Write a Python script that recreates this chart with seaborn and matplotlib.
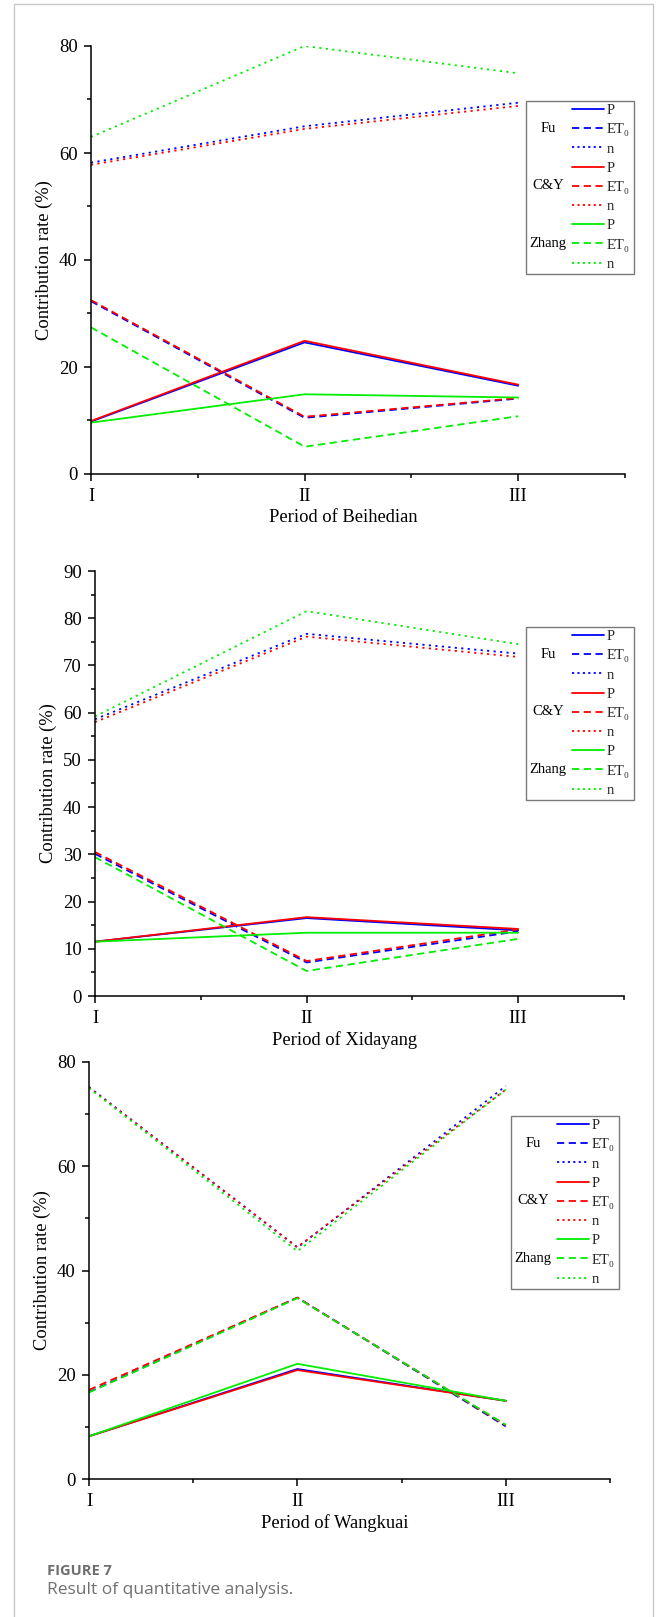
import numpy as np
import pandas as pd
import matplotlib
matplotlib.use("Agg")
import matplotlib.pyplot as plt
import seaborn as sns
from matplotlib.lines import Line2D
from matplotlib.patches import Rectangle

# ---------------- data ----------------
periods = ["I", "II", "III"]
methods = ["Fu", "C&Y", "Zhang"]
factors = ["P", "ET₀", "n"]
sites = ["Beihedian", "Xidayang", "Wangkuai"]

# Beihedian
bhd_fu_p = [9.8, 24.6, 16.5]
bhd_cy_p = [9.9, 24.9, 16.7]
bhd_zh_p = [9.6, 14.9, 14.3]
bhd_fu_et = [32.3, 10.5, 14.1]
bhd_cy_et = [32.5, 10.7, 14.2]
bhd_zh_et = [27.4, 5.1, 10.8]
bhd_fu_n = [58.2, 65.0, 69.4]
bhd_cy_n = [57.8, 64.5, 68.8]
bhd_zh_n = [63.0, 80.0, 74.9]

# Xidayang
xdy_fu_p = [11.5, 16.5, 13.9]
xdy_cy_p = [11.5, 16.7, 14.2]
xdy_zh_p = [11.5, 13.4, 13.4]
xdy_fu_et = [30.1, 7.1, 13.7]
xdy_cy_et = [30.5, 7.4, 14.1]
xdy_zh_et = [29.4, 5.3, 12.1]
xdy_fu_n = [58.6, 76.7, 72.5]
xdy_cy_n = [58.0, 76.1, 71.8]
xdy_zh_n = [59.2, 81.5, 74.5]

# Wangkuai
wk_fu_p = [8.2, 21.1, 15.0]
wk_cy_p = [8.2, 20.9, 15.0]
wk_zh_p = [8.2, 22.1, 15.0]
wk_fu_et = [16.7, 34.8, 10.1]
wk_cy_et = [17.1, 34.8, 10.3]
wk_zh_et = [16.6, 34.7, 10.4]
wk_fu_n = [75.2, 44.4, 75.4]
wk_cy_n = [75.1, 44.5, 74.7]
wk_zh_n = [75.0, 43.7, 74.7]

ylims = [80, 90, 80]

site_series = [
    {"Fu": [bhd_fu_p, bhd_fu_et, bhd_fu_n], "C&Y": [bhd_cy_p, bhd_cy_et, bhd_cy_n], "Zhang": [bhd_zh_p, bhd_zh_et, bhd_zh_n]},
    {"Fu": [xdy_fu_p, xdy_fu_et, xdy_fu_n], "C&Y": [xdy_cy_p, xdy_cy_et, xdy_cy_n], "Zhang": [xdy_zh_p, xdy_zh_et, xdy_zh_n]},
    {"Fu": [wk_fu_p, wk_fu_et, wk_fu_n], "C&Y": [wk_cy_p, wk_cy_et, wk_cy_n], "Zhang": [wk_zh_p, wk_zh_et, wk_zh_n]},
]

# ---------------- style ----------------
sns.set_theme(style="ticks")
plt.rcParams["font.family"] = ["Liberation Serif", "DejaVu Serif"]
plt.rcParams["axes.linewidth"] = 1.1
plt.rcParams["axes.edgecolor"] = "black"

colors = {"Fu": "#0000ff", "C&Y": "#ff0000", "Zhang": "#00ee00"}
dash_map = {"P": "", "ET₀": (4, 2.5), "n": (1.2, 2.4)}
legend_dash = {"P": "", "ET₀": (4, 2.5), "n": (1.2, 1.8)}
LW = 1.3
LEG_FS = 10.5

W, H = 656, 1617
fig = plt.figure(figsize=(W / 100, H / 100), dpi=100)

# axes pixel boxes: left, right, top, bottom
panel_px = [(91, 625, 46, 474), (95, 624, 571, 996), (89, 610, 1062, 1479)]
legend_px = [(572, 104), (572, 630), (557, 1119)]

axes = []
legends = []
for i, site in enumerate(sites):
    l, r, t, b = panel_px[i]
    ax = fig.add_axes([l / W, 1 - b / H, (r - l) / W, (b - t) / H])
    rows = []
    for m in methods:
        for f, vals in zip(factors, site_series[i][m]):
            for k, v in enumerate(vals):
                rows.append({"x": k, "value": v, "method": m, "factor": f})
    df = pd.DataFrame(rows)
    sns.lineplot(data=df, x="x", y="value", hue="method", style="factor",
                 hue_order=methods, style_order=factors, palette=colors,
                 dashes=dash_map, linewidth=LW, errorbar=None, legend=False,
                 sort=False, ax=ax)
    ymax = ylims[i]
    ax.set_xlim(0, 2.5)
    ax.set_ylim(0, ymax)
    ax.set_xticks(range(len(periods)), labels=periods)
    ax.set_xticks([0.5, 1.5, 2.5], minor=True)
    if ymax == 90:
        ax.set_yticks(np.arange(0, 91, 10))
        ax.set_yticks(np.arange(5, 90, 10), minor=True)
    else:
        ax.set_yticks(np.arange(0, 81, 20))
        ax.set_yticks(np.arange(10, 80, 20), minor=True)
    sns.despine(ax=ax)
    ax.tick_params(which="major", direction="out", length=5, width=1.1,
                   labelsize=13.5, color="black", labelcolor="black")
    ax.tick_params(which="minor", direction="out", length=2.8, width=1.1, color="black")
    ax.tick_params(axis="y", which="major", pad=4.5)
    ax.tick_params(axis="x", which="major", pad=5)
    ax.set_xlabel(f"Period of {site}", fontsize=13.3, color="black")
    ax.set_ylabel("Contribution rate (%)", fontsize=13.3, color="black")
    ax.yaxis.set_label_coords(-38 / (r - l), 0.5)
    ax.xaxis.set_label_coords(0.472, -35 / (b - t))

    handles, labels = [], []
    for m in methods:
        for f in factors:
            d = legend_dash[f]
            ls = "-" if d == "" else (0, d)
            handles.append(Line2D([], [], color=colors[m], lw=LW, linestyle=ls))
            labels.append(f)
    hx, hy = legend_px[i]
    leg = ax.legend(handles, labels, loc="upper left",
                    bbox_to_anchor=((hx - l) / (r - l), (b - hy) / (b - t)),
                    frameon=False, borderpad=0, borderaxespad=0,
                    handlelength=2.2, handletextpad=0.2, labelspacing=0.41,
                    fontsize=LEG_FS)
    axes.append(ax)
    legends.append(leg)

fig.canvas.draw()
renderer = fig.canvas.get_renderer()
inv = fig.transFigure.inverted()
for ax, leg in zip(axes, legends):
    hls = leg.legend_handles
    bb = leg.get_window_extent(renderer)
    hx0 = hls[0].get_window_extent(renderer).x0
    for gi, m in enumerate(methods):
        hb = hls[gi * 3 + 1].get_window_extent(renderer)
        cy = (hb.y0 + hb.y1) / 2
        fx, fy = inv.transform((hx0 - 24, cy))
        fig.text(fx, fy, m, ha="center", va="center", fontsize=LEG_FS, color="black")
    x0, y0 = inv.transform((hx0 - 46, bb.y0 - 3))
    x1, y1 = inv.transform((bb.x1 + 4, bb.y1 + 3))
    fig.patches.append(Rectangle((x0, y0), x1 - x0, y1 - y0, transform=fig.transFigure,
                                 fill=False, edgecolor="#7a7a7a", lw=1.0, zorder=5))

# caption
fig.text(47 / W, 1 - 1575 / H, "FIGURE 7", family="Open Sans", weight="bold",
         color="#6e6e6e", fontsize=10.5, va="baseline")
fig.text(47 / W, 1 - 1594 / H, "Result of quantitative analysis.", family="Open Sans",
         color="#707070", fontsize=12.5, va="baseline")

# outer frame
fig.patches.append(Rectangle((14 / W, -0.01), (653 - 14) / W, 1.01 - 4 / H,
                             transform=fig.transFigure, fill=False,
                             edgecolor="#c8c8c8", lw=1.0, zorder=0))

fig.savefig("out.png", dpi=100)
